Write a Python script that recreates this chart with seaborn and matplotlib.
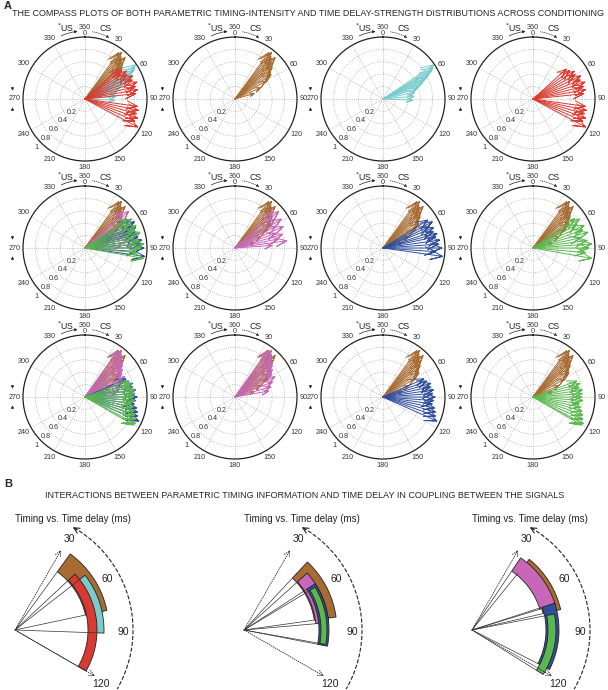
import numpy as np
import pandas as pd
import matplotlib
matplotlib.use('Agg')
import matplotlib.pyplot as plt
import seaborn as sns

sns.set_style('white')
plt.rcParams['font.family'] = ['Liberation Sans', 'DejaVu Sans']

# ---- colours
BROWN = '#a86b32'
CYAN = '#7ccbcc'
RED = '#d93a32'
PINK = '#c867b8'
BLUE = '#2f4f9d'
GREEN = '#5bb84e'

# ---- compass data (angle in degrees clockwise from top, strength 0-1)
brown_ang = [36, 38, 40, 42, 44, 46, 48, 50, 53, 56, 60, 66, 74]
brown_mag = [0.92, 0.95, 0.90, 0.88, 0.93, 0.85, 0.80, 0.78, 0.72, 0.70, 0.58, 0.45, 0.32]

cyan_ang = [56, 58, 60, 61, 63, 64, 66, 68, 70, 73, 78, 85, 92]
cyan_mag = [0.98, 0.95, 0.90, 0.85, 0.80, 0.78, 0.72, 0.68, 0.62, 0.58, 0.52, 0.50, 0.48]

red_ang = [48, 52, 56, 60, 64, 68, 72, 76, 80, 84, 98, 102, 106, 110, 114, 118]
red_mag = [0.72, 0.75, 0.80, 0.78, 0.85, 0.82, 0.88, 0.84, 0.86, 0.82, 0.85, 0.88, 0.86, 0.90, 0.88, 0.96]

pink2_ang = [46, 50, 54, 58, 62, 66, 70, 74, 78, 82, 86]
pink2_mag = [0.85, 0.92, 0.80, 0.88, 0.75, 0.85, 0.70, 0.80, 0.72, 0.84, 0.60]

blue2_ang = [58, 62, 65, 68, 72, 75, 78, 82, 86, 90, 94, 98]
blue2_mag = [0.85, 0.90, 0.82, 0.88, 0.85, 0.90, 0.87, 0.92, 0.90, 0.95, 0.85, 0.97]

green2_ang = [55, 58, 62, 66, 70, 74, 78, 82, 86, 90, 95, 100]
green2_mag = [0.82, 0.88, 0.80, 0.90, 0.85, 0.92, 0.78, 0.88, 0.95, 0.90, 0.85, 0.96]

pink3_ang = [35, 38, 41, 44, 47, 50, 54, 58, 63, 68, 74, 80]
pink3_mag = [0.92, 0.95, 0.90, 0.85, 0.82, 0.78, 0.75, 0.70, 0.72, 0.65, 0.60, 0.55]

blue3_ang = [66, 70, 74, 78, 82, 86, 90, 94, 98, 102, 106, 110, 114]
blue3_mag = [0.72, 0.75, 0.80, 0.78, 0.82, 0.80, 0.84, 0.82, 0.80, 0.85, 0.88, 0.90, 0.95]

green3_ang = [70, 74, 78, 82, 86, 90, 94, 98, 102, 106, 110, 114, 118, 120]
green3_mag = [0.75, 0.78, 0.76, 0.80, 0.79, 0.78, 0.80, 0.76, 0.78, 0.82, 0.85, 0.88, 0.92, 0.90]

brown = (brown_ang, brown_mag, BROWN)
cyan = (cyan_ang, cyan_mag, CYAN)
red = (red_ang, red_mag, RED)
pink2 = (pink2_ang, pink2_mag, PINK)
blue2 = (blue2_ang, blue2_mag, BLUE)
green2 = (green2_ang, green2_mag, GREEN)
pink3 = (pink3_ang, pink3_mag, PINK)
blue3 = (blue3_ang, blue3_mag, BLUE)
green3 = (green3_ang, green3_mag, GREEN)

panels = [
    [brown, cyan, red], [brown], [cyan], [red],
    [brown, pink2, blue2, green2], [brown, pink2], [brown, blue2], [brown, green2],
    [brown, pink3, blue3, green3], [brown, pink3], [brown, blue3], [brown, green3],
]

compass_angles = list(range(30, 360, 30))
compass_radii = [0.2, 0.4, 0.6, 0.8, 1.0]
radius_labels = ['0.2', '0.4', '0.6', '0.8', '1']

# ---- panel B data: wedges (start angle, end angle, inner r, outer r)
b1_colors = [BROWN, CYAN, RED]
b1_start = [36, 52, 47]
b1_end = [78, 92, 120]
b1_inner = [72, 81, 73]
b1_outer = [94, 89, 82]

b2_colors = [BROWN, PINK, BLUE, GREEN]
b2_start = [43, 48, 57, 59]
b2_end = [82, 85, 101, 100]
b2_inner = [71, 72, 75, 77]
b2_outer = [93, 85, 85, 83]

b3_colors = [BROWN, PINK, BLUE, GREEN]
b3_start = [39, 34, 72, 79]
b3_end = [77, 73, 117, 122]
b3_inner = [73, 71, 74, 76]
b3_outer = [91, 87, 87, 84]

fan_ticks = [30, 60, 90, 120]

W, H = 608, 690
fig = plt.figure(figsize=(W / 100, H / 100), dpi=100)
TXT = '#333333'


def polar_at(cx, cy, R):
    return fig.add_axes([(cx - R) / W, 1 - (cy + R) / H, 2 * R / W, 2 * R / H],
                        projection='polar')


def arrow_frame(ang, mag):
    # MATLAB compass style arrows: shaft + two head strokes
    dt = np.arctan2(0.08, 0.8)
    k = np.hypot(0.8, 0.08)
    rows = []
    for i, (a, m) in enumerate(zip(ang, mag)):
        t = np.radians(a)
        pts = [(t, 0), (t, m), (t + dt, k * m), (t, m), (t - dt, k * m)]
        for j, (tt, rr) in enumerate(pts):
            rows.append({'arrow': i, 'step': j, 'theta': tt, 'r': rr})
    return pd.DataFrame(rows)


def compass(ax, groups):
    ax.set_theta_zero_location('N')
    ax.set_theta_direction(-1)
    for ang, mag, col in groups:
        df = arrow_frame(ang, mag)
        sns.lineplot(data=df, x='theta', y='r', units='arrow', estimator=None,
                     sort=False, color=col, lw=0.7, ax=ax)
    ax.set_xlabel('')
    ax.set_ylabel('')
    ax.set_ylim(0, 1)
    ax.set_yticks(compass_radii[:-1])
    ax.set_yticklabels([])
    ax.set_xticks(np.radians([0] + compass_angles))
    ax.set_xticklabels([])
    ax.grid(True, ls=':', lw=0.6, color='#aaaaaa')
    ax.spines['polar'].set_color('#222222')
    ax.spines['polar'].set_linewidth(0.9)
    for a in compass_angles:
        lab = str(a)
        rr = 1.10 if len(lab) == 2 else 1.11 + 0.03 * abs(np.sin(np.radians(a)))
        ax.text(np.radians(a), rr, lab, fontsize=5.2, color=TXT,
                ha='center', va='center')
    for rv, lab in zip(compass_radii, radius_labels):
        ax.text(np.radians(225), rv + 0.1, lab, fontsize=5.2, color=TXT,
                ha='center', va='center')
    ax.text(0, 1.06, '0', fontsize=5.2, color=TXT, ha='center', va='center')
    ax.text(0, 1.16, '360', fontsize=5.2, color=TXT, ha='center', va='center')
    ax.text(np.radians(-15), 1.19, r'$^{*}$US', fontsize=6.3, color='#222222',
            ha='center', va='center')
    ax.text(np.radians(16), 1.19, 'CS', fontsize=6.3, color='#222222',
            ha='center', va='center')
    ax.annotate('', xy=(np.radians(-4), 1.09), xytext=(np.radians(-23), 1.08),
                arrowprops=dict(arrowstyle='-|>', lw=0.5, color='#222222',
                                mutation_scale=4, connectionstyle='arc3,rad=-0.15'),
                annotation_clip=False)
    ax.annotate('', xy=(np.radians(24), 1.05), xytext=(np.radians(4), 1.09),
                arrowprops=dict(arrowstyle='-|>', lw=0.5, ls=':', color='#222222',
                                mutation_scale=4, connectionstyle='arc3,rad=-0.15'),
                annotation_clip=False)
    ax.annotate('', xy=(-0.085, 0.545), xytext=(-0.085, 0.615), xycoords='axes fraction',
                arrowprops=dict(arrowstyle='-|>', lw=0.5, color='#222222',
                                mutation_scale=4), annotation_clip=False)
    ax.annotate('', xy=(-0.085, 0.455), xytext=(-0.085, 0.385), xycoords='axes fraction',
                arrowprops=dict(arrowstyle='-|>', lw=0.5, color='#222222',
                                mutation_scale=4), annotation_clip=False)


col_x = [85, 235, 383, 533]
row_y = [99, 248, 397]
for k, groups in enumerate(panels):
    ax = polar_at(col_x[k % 4], row_y[k // 4], 62)
    compass(ax, groups)


def fan(ax, colors, start, end, inner, outer):
    ax.set_theta_zero_location('N')
    ax.set_theta_direction(-1)
    ax.set_ylim(0, 120)
    ax.axis('off')
    for c, s, e, ri, ro in zip(colors, start, end, inner, outer):
        ax.plot(np.radians([s, s]), [0, ri], color='#333333', lw=0.5)
        ax.plot(np.radians([e, e]), [0, ri], color='#333333', lw=0.5)
    for c, s, e, ri, ro in zip(colors, start, end, inner, outer):
        ax.bar(np.radians((s + e) / 2), ro - ri, width=np.radians(e - s), bottom=ri,
               color=c, edgecolor='#222222', lw=0.6)
    for t in [fan_ticks[0], fan_ticks[-1]]:
        ax.annotate('', xy=(np.radians(t), 95), xytext=(0, 0),
                    arrowprops=dict(arrowstyle='->', lw=0.6, ls=':', color='#222222'))
    arc = np.radians(np.linspace(fan_ticks[0], fan_ticks[-1], 100))
    ax.plot(arc, np.full_like(arc, 118), color='#222222', lw=0.8, ls='--')
    ax.annotate('', xy=(np.radians(28), 118), xytext=(np.radians(33), 118),
                arrowprops=dict(arrowstyle='->', lw=0.8, color='#222222'),
                annotation_clip=False)
    for t, r in zip(fan_ticks, [106, 105, 108, 101]):
        ax.text(np.radians(t + 1 if t < 100 else t + 2), r, str(t), fontsize=7.5,
                color='#222222', ha='center', va='center')


fan_x = [15, 244, 472]
fans = [(b1_colors, b1_start, b1_end, b1_inner, b1_outer),
        (b2_colors, b2_start, b2_end, b2_inner, b2_outer),
        (b3_colors, b3_start, b3_end, b3_inner, b3_outer)]
for x0, spec in zip(fan_x, fans):
    ax = polar_at(x0, 630, 120)
    fan(ax, *spec)
    fig.text((x0 + 58) / W, 1 - 519 / H, 'Timing vs. Time delay (ms)', fontsize=7,
             color='#222222', ha='center', va='center')

fig.text(4 / W, 1 - 6 / H, 'A', fontsize=8, fontweight='bold', va='center')
fig.text(12 / W, 1 - 13 / H,
         'THE COMPASS PLOTS OF BOTH PARAMETRIC TIMING-INTENSITY AND TIME DELAY-STRENGTH '
         'DISTRIBUTIONS ACROSS CONDITIONING', fontsize=6.5, va='center')
fig.text(4 / W, 1 - 484 / H, 'B', fontsize=8, fontweight='bold', va='center')
fig.text(305 / W, 1 - 496 / H,
         'INTERACTIONS BETWEEN PARAMETRIC TIMING INFORMATION AND TIME DELAY IN COUPLING '
         'BETWEEN THE SIGNALS', fontsize=6.5, ha='center', va='center')

fig.savefig('out.png', dpi=100)
